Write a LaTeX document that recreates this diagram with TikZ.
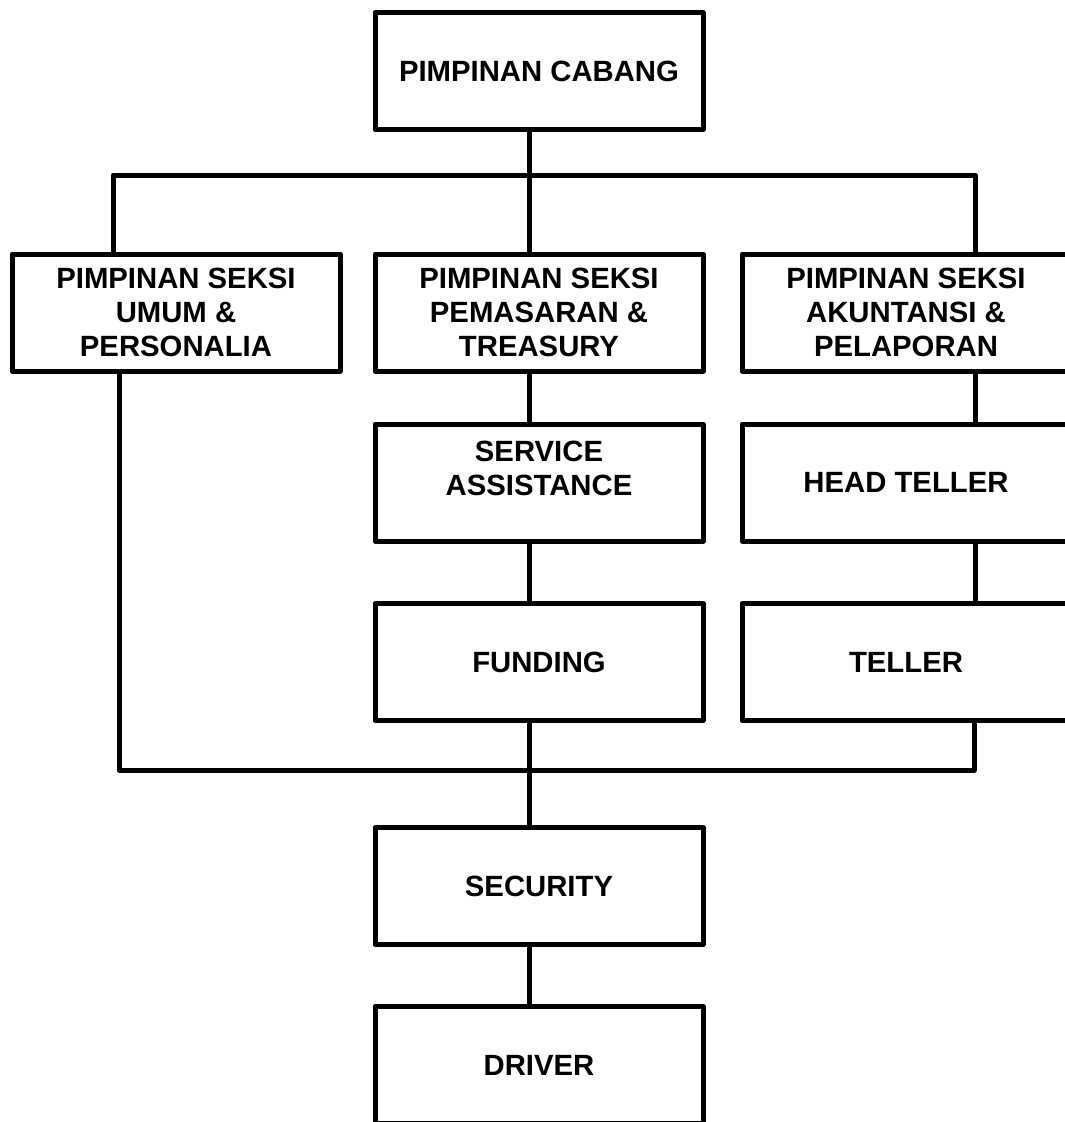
\documentclass[tikz,border=0pt]{standalone}
\usepackage{fontspec}
\setmainfont{Liberation Sans}
\usetikzlibrary{calc}

\begin{document}
\begin{tikzpicture}[x=1pt,y=-1pt,
    unit/.style={draw,line width=5pt,line join=round,minimum width=328pt,
        minimum height=117pt,inner sep=0pt,align=center,
        font=\bfseries\fontsize{29.3}{34}\selectfont},
    link/.style={line width=5pt,line join=round}]
    \useasboundingbox (0,0) rectangle (1065,1122);
    \clip (0,0) rectangle (1065,1122);

    % boxes
    \node[unit] (boss) at (539,71) {PIMPINAN CABANG};
    \node[unit] (umum) at (176,312.5) {PIMPINAN SEKSI\\UMUM \&\\PERSONALIA};
    \node[unit] (pms) at (539,312.5) {PIMPINAN SEKSI\\PEMASARAN \&\\TREASURY};
    \node[unit] (akt) at (906,312.5) {PIMPINAN SEKSI\\AKUNTANSI \&\\PELAPORAN};
    \node[unit] (svc) at (539,482.5) {SERVICE\\ASSISTANCE\\[-5pt]\mbox{}};
    \node[unit] (ht) at (906,482.5) {HEAD TELLER};
    \node[unit] (fund) at (539,662) {FUNDING};
    \node[unit] (tel) at (906,662) {TELLER};
    \node[unit] (sec) at (539,886) {SECURITY};
    \node[unit] (drv) at (539,1065) {DRIVER};

    % lines
    \coordinate (spine) at (529,0);
    \coordinate (lft) at (113,175);
    \coordinate (rgt) at (975,175);
    \coordinate (lftb) at (119,770);
    \coordinate (rgtb) at (974,770);

    \draw[link] (boss.south -| spine) -- (pms.north -| spine);
    \draw[link] (umum.north -| lft) -- (lft) -- (rgt) -- (akt.north -| rgt);
    \draw[link] (pms.south -| spine) -- (svc.north -| spine);
    \draw[link] (svc.south -| spine) -- (fund.north -| spine);
    \draw[link] (akt.south -| rgt) -- (ht.north -| rgt);
    \draw[link] (ht.south -| rgt) -- (tel.north -| rgt);
    \draw[link] (umum.south -| lftb) -- (lftb) -- (rgtb) -- (tel.south -| rgtb);
    \draw[link] (fund.south -| spine) -- (sec.north -| spine);
    \draw[link] (sec.south -| spine) -- (drv.north -| spine);
\end{tikzpicture}
\end{document}
